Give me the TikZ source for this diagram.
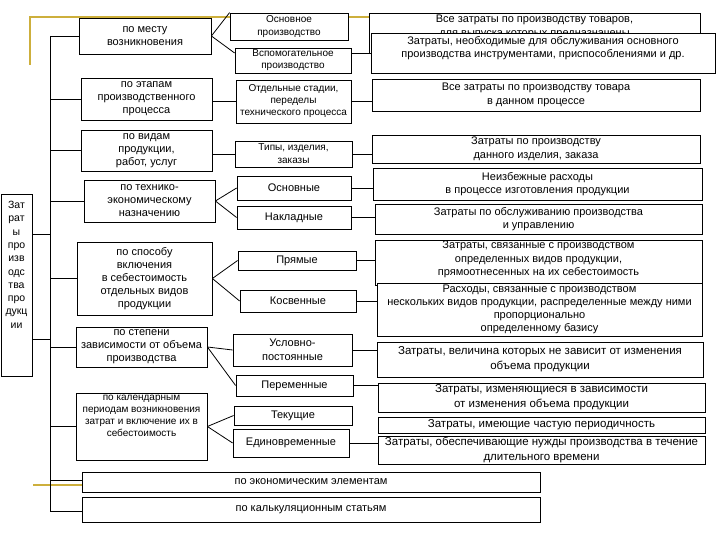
\documentclass[tikz,border=0pt]{standalone}
\usepackage{fontspec}
\setmainfont{Liberation Sans}
\usetikzlibrary{calc}
\definecolor{gold}{RGB}{205,175,60}
\begin{document}
\begin{tikzpicture}[x=1pt,y=-1pt,
  box/.style={draw, fill=white, line width=0.8pt, inner sep=1pt, align=center},
  txt/.style={inner sep=0pt, align=center},
  conn/.style={draw, line width=0.8pt},
  yel/.style={draw=gold, line width=2pt},
  fL/.style={font=\fontsize{11}{13}\selectfont},
  fM/.style={font=\fontsize{10}{13}\selectfont},
  fS/.style={font=\fontsize{10}{12}\selectfont},
  fB/.style={font=\fontsize{11}{14}\selectfont},
  fR/.style={font=\fontsize{11}{13.5}\selectfont},
  fX/.style={font=\fontsize{11.5}{15}\selectfont}]
\fill[white] (0,0) rectangle (720,540);
\useasboundingbox (0,0) rectangle (720,540);

% decorative yellow lines
\coordinate (y1) at (30,65);
\coordinate (y2) at (30,17);
\coordinate (y3) at (370,17);
\coordinate (y4) at (33,485);
\draw[yel] (y1) -- (y2) -- (y3);

% right column, top boxes (overlapping)
\node[box, minimum width=331pt, minimum height=40pt] (A) at (534.5,33) {};
\node[txt, fR, anchor=north] (At) at (534.5,15) {Все затраты по производству товаров,\\для выпуска которых предназначены};
\node[box, minimum width=344pt, minimum height=40pt] (B) at (543,53) {};
\node[txt, fR, anchor=north] (Bt) at (543,36) {Затраты, необходимые для обслуживания основного\\производства инструментами, приспособлениями и др.};

% root
\node[box, minimum width=31pt, minimum height=182pt] (root) at (16.5,285) {};
\node[txt, font=\fontsize{10.5}{13.3}\selectfont, anchor=north] (rootT) at (16.5,201) {Зат\\рат\\ы\\про\\изв\\одс\\тва\\про\\дукц\\ии};

% left column
\node[box, fL, minimum width=132pt, minimum height=36pt] (mesto) at (145,36) {по месту\\возникновения};
\node[box, fL, minimum width=131pt, minimum height=42pt] (etap) at (146.5,99) {по этапам\\производственного\\процесса};
\node[box, fL, minimum width=131pt, minimum height=41pt] (vid) at (146.5,150.5) {по видам\\продукции,\\работ, услуг};
\node[box, fL, minimum width=131pt, minimum height=42pt] (tech) at (149.5,201) {по технико-\\экономическому\\назначению};
\node[box, fL, minimum width=135pt, minimum height=73pt] (sposob) at (144.5,278.5) {по способу\\включения\\в себестоимость\\отдельных видов\\продукции};
\node[box, fL, minimum width=131pt, minimum height=40pt] (stepen) at (141.5,347) {по степени\\зависимости от объема\\производства};
\node[box, minimum width=131pt, minimum height=67pt] (kalend) at (141.5,426.5) {};
\node[txt, fS, anchor=north] (kalendT) at (141.5,395) {по календарным\\периодам возникновения\\затрат и включение их в\\себестоимость};
\node[box, fL, minimum width=458pt, minimum height=20pt] (econ) at (311,482) {по экономическим элементам};
\node[box, fL, minimum width=458pt, minimum height=25pt] (kalk) at (311,509.5) {по калькуляционным статьям};

% middle column
\node[box, fM, minimum width=118pt, minimum height=27pt] (osn) at (289,26.5) {Основное\\производство};
\node[box, fS, minimum width=116pt, minimum height=25pt] (vspom) at (293,60.5) {Вспомогательное\\производство};
\node[box, fS, minimum width=115pt, minimum height=43pt] (otd) at (293.5,101.5) {Отдельные стадии,\\переделы\\технического процесса};
\node[box, fM, minimum width=117pt, minimum height=26pt] (tipy) at (293.5,154) {Типы, изделия,\\заказы};
\node[box, fB, minimum width=114pt, minimum height=24pt] (osnv) at (294,188) {Основные};
\node[box, fB, minimum width=114pt, minimum height=23pt] (nakl) at (294,217.5) {Накладные};
\node[box, fB, minimum width=118pt, minimum height=19pt] (pryam) at (297,260.5) {Прямые};
\node[box, fB, minimum width=116pt, minimum height=22pt] (kosv) at (298,301) {Косвенные};
\node[box, fB, minimum width=119pt, minimum height=32pt] (uslov) at (292.5,350) {Условно-\\постоянные};
\node[box, fB, minimum width=117pt, minimum height=21pt] (perem) at (294.5,385.5) {Переменные};
\node[box, fB, minimum width=118pt, minimum height=19pt] (tek) at (293,415.5) {Текущие};
\node[box, fB, minimum width=116pt, minimum height=28pt] (edin) at (291,443) {Единовременные};

% right column
\node[box, fR, minimum width=328pt, minimum height=32pt] (r3) at (536,95) {Все затраты по производству товара\\в данном процессе};
\node[box, fR, minimum width=328pt, minimum height=28pt] (r4) at (536,149) {Затраты по производству\\данного изделия, заказа};
\node[box, fR, minimum width=329pt, minimum height=32pt] (r5) at (537.5,184) {Неизбежные расходы\\в процессе изготовления продукции};
\node[box, fR, minimum width=327pt, minimum height=30pt] (r6) at (538.5,219) {Затраты по обслуживанию производства\\и управлению};
\node[box, fR, minimum width=327pt, minimum height=45pt] (r7) at (538.5,262.5) {};
\node[txt, fR, anchor=north] (r7t) at (538.5,241) {Затраты, связанные с производством\\определенных видов продукции,\\прямоотнесенных на их себестоимость};
\node[box, font=\fontsize{11}{13}\selectfont, minimum width=325pt, minimum height=53pt] (r8) at (539.5,309.5) {Расходы, связанные с производством\\нескольких видов продукции, распределенные между ними\\пропорционально\\определенному базису};
\node[box, fX, minimum width=326pt, minimum height=35pt] (r9) at (540,359.5) {Затраты, величина которых не зависит от изменения\\объема продукции};
\node[box, fX, minimum width=327pt, minimum height=29pt] (r10) at (541.5,397.5) {Затраты, изменяющиеся в зависимости\\от изменения объема продукции};
\node[box, fX, minimum width=327pt, minimum height=16pt] (r11) at (541.5,425) {Затраты, имеющие частую периодичность};
\node[box, fX, minimum width=327pt, minimum height=26pt] (r12) at (541.5,450) {Затраты, обеспечивающие нужды производства в течение\\длительного времени};

% bottom yellow
\draw[yel] (y4) -- (y4 -| econ.west);

% main vertical and branches
\coordinate (vt) at (50,36);
\coordinate (vb) at (50,511);
\draw[conn] (vt) -- (vb);
\draw[conn] (root.east |- 0,234) -- (vt |- 0,234);
\draw[conn] (root.east |- 0,339) -- (vt |- 0,339);
\draw[conn] (vt) -- (vt -| mesto.west);
\draw[conn] (vt |- etap.west) -- (etap.west);
\draw[conn] (vt |- vid.west) -- (vid.west);
\draw[conn] (vt |- tech.west) -- (tech.west);
\draw[conn] (vt |- sposob.west) -- (sposob.west);
\draw[conn] (vt |- stepen.west) -- (stepen.west);
\draw[conn] (vt |- kalend.west) -- (kalend.west);
\draw[conn] (vt |- 0,480) -- (econ.west |- 0,480);
\draw[conn] (vb) -- (vb -| kalk.west);

% left -> middle
\draw[conn] (mesto.east) -- (osn.north west);
\draw[conn] (mesto.east) -- (vspom.north west |- 0,53);
\draw[conn] (etap.east |- otd.west) -- (otd.west);
\draw[conn] (vid.east |- tipy.west) -- (tipy.west);
\draw[conn] (tech.east) -- (osnv.west);
\draw[conn] (tech.east) -- (nakl.west);
\draw[conn] (sposob.east) -- (pryam.west);
\draw[conn] (sposob.east) -- (kosv.west);
\draw[conn] (stepen.east) -- (uslov.west);
\draw[conn] (stepen.east) -- (perem.west);
\draw[conn] (kalend.east) -- (tek.west);
\draw[conn] (kalend.east) -- (edin.west);

% middle -> right
\draw[conn] (vspom.east |- A.south west) -- (A.south west);
\draw[conn] (otd.east) -- (otd.east -| r3.west);
\draw[conn] (tipy.east) -- (tipy.east -| r4.west);
\draw[conn] (osnv.east) -- (osnv.east -| r5.west);
\draw[conn] (nakl.east) -- (nakl.east -| r6.west);
\draw[conn] (pryam.east) -- (pryam.east -| r7.west);
\draw[conn] (kosv.east) -- (kosv.east -| r8.west);
\draw[conn] (uslov.east) -- (uslov.east -| r9.west);
\draw[conn] (perem.east) -- (perem.east -| r10.west);
\draw[conn] (edin.east) -- (edin.east -| r12.west);
\end{tikzpicture}
\end{document}
